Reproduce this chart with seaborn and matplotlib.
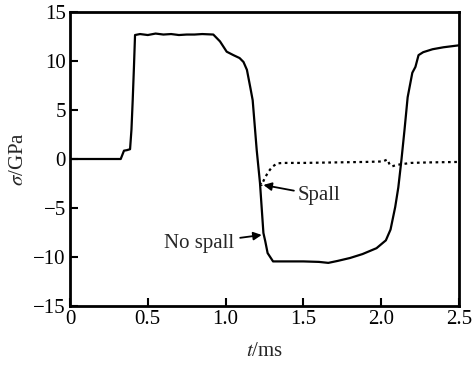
import matplotlib
matplotlib.use("Agg")
import matplotlib.pyplot as plt
import seaborn as sns
import pandas as pd

# --- data ---
t_nospall = [0.0, 0.326, 0.347, 0.365, 0.386, 0.395, 0.403, 0.411, 0.418, 0.45, 0.5, 0.55,
             0.6, 0.65, 0.7, 0.75, 0.8, 0.85, 0.921, 0.964, 1.007, 1.05, 1.09, 1.115,
             1.137, 1.16, 1.174, 1.20, 1.221, 1.243, 1.255, 1.27, 1.305, 1.40, 1.50, 1.60,
             1.66, 1.72, 1.80, 1.88, 1.97, 2.03, 2.06, 2.09, 2.11, 2.13, 2.15, 2.17, 2.20,
             2.22, 2.24, 2.27, 2.33, 2.40, 2.5]
s_nospall = [0.0, 0.0, 0.85, 0.9, 1.0, 3.0, 6.0, 9.4, 12.65, 12.75, 12.65, 12.8,
             12.7, 12.75, 12.65, 12.7, 12.7, 12.75, 12.7, 12.0, 10.95, 10.6, 10.3, 9.9,
             9.1, 7.2, 6.0, 0.9, -2.45, -7.55, -8.4, -9.6, -10.45, -10.45, -10.45, -10.5,
             -10.6, -10.4, -10.1, -9.7, -9.1, -8.3, -7.2, -4.9, -2.9, -0.1, 3.0, 6.3, 8.8,
             9.4, 10.6, 10.9, 11.2, 11.4, 11.6]

t_spall = [1.221, 1.232, 1.25, 1.275, 1.30, 1.33, 1.37, 1.5, 1.7, 1.9, 2.01, 2.04,
           2.055, 2.07, 2.10, 2.19, 2.3, 2.5]
s_spall = [-2.45, -2.65, -2.0, -1.3, -0.8, -0.45, -0.4, -0.4, -0.35, -0.3, -0.25, -0.05,
           -0.6, -0.75, -0.6, -0.4, -0.35, -0.3]

x_ticks = [0, 0.5, 1.0, 1.5, 2.0, 2.5]
x_ticklabels = ["0", "0.5", "1.0", "1.5", "2.0", "2.5"]
y_ticks = [-15, -10, -5, 0, 5, 10, 15]
y_ticklabels = ["\u221215", "\u221210", "\u22125", "0", "5", "10", "15"]

df1 = pd.DataFrame({"t": t_nospall, "s": s_nospall})
df2 = pd.DataFrame({"t": t_spall, "s": s_spall})

sns.set_style("ticks")
plt.rcParams["font.family"] = ["Liberation Serif", "DejaVu Serif"]
plt.rcParams["mathtext.fontset"] = "stix"

fig = plt.figure(figsize=(4.73, 3.66), dpi=100)
ax = fig.add_axes([70 / 473, 1 - 306 / 366, (459 - 70) / 473, (306 - 12) / 366])

sns.lineplot(data=df1, x="t", y="s", ax=ax, color="black", linewidth=1.6,
             sort=False, estimator=None)
sns.lineplot(data=df2, x="t", y="s", ax=ax, color="black", linewidth=1.6,
             linestyle=(0, (1.2, 1.6)), sort=False, estimator=None)

ax.set_xlim(0, 2.5)
ax.set_ylim(-15, 15)
ax.set_xticks(x_ticks)
ax.set_xticklabels(x_ticklabels)
ax.set_yticks(y_ticks)
ax.set_yticklabels(y_ticklabels)
ax.tick_params(direction="in", length=6, width=1.5, labelsize=15, pad=3,
               colors="black")
for sp in ax.spines.values():
    sp.set_linewidth(2)
    sp.set_color("black")

ax.set_xlabel("$t$/ms", fontsize=15, labelpad=9)
ax.set_ylabel("$\\sigma$/GPa", fontsize=15, labelpad=4)

ax.annotate("Spall", xy=(1.243, -2.65), xytext=(1.46, -3.7), fontsize=15,
            va="center", ha="left",
            arrowprops=dict(arrowstyle="-|>", color="black", lw=1.3,
                            shrinkA=0, shrinkB=0, mutation_scale=12))
ax.annotate("No spall", xy=(1.232, -7.75), xytext=(1.055, -8.6), fontsize=15,
            va="center", ha="right",
            arrowprops=dict(arrowstyle="-|>", color="black", lw=1.3,
                            shrinkA=2, shrinkB=0, mutation_scale=12))

fig.savefig("out.png", dpi=100)
